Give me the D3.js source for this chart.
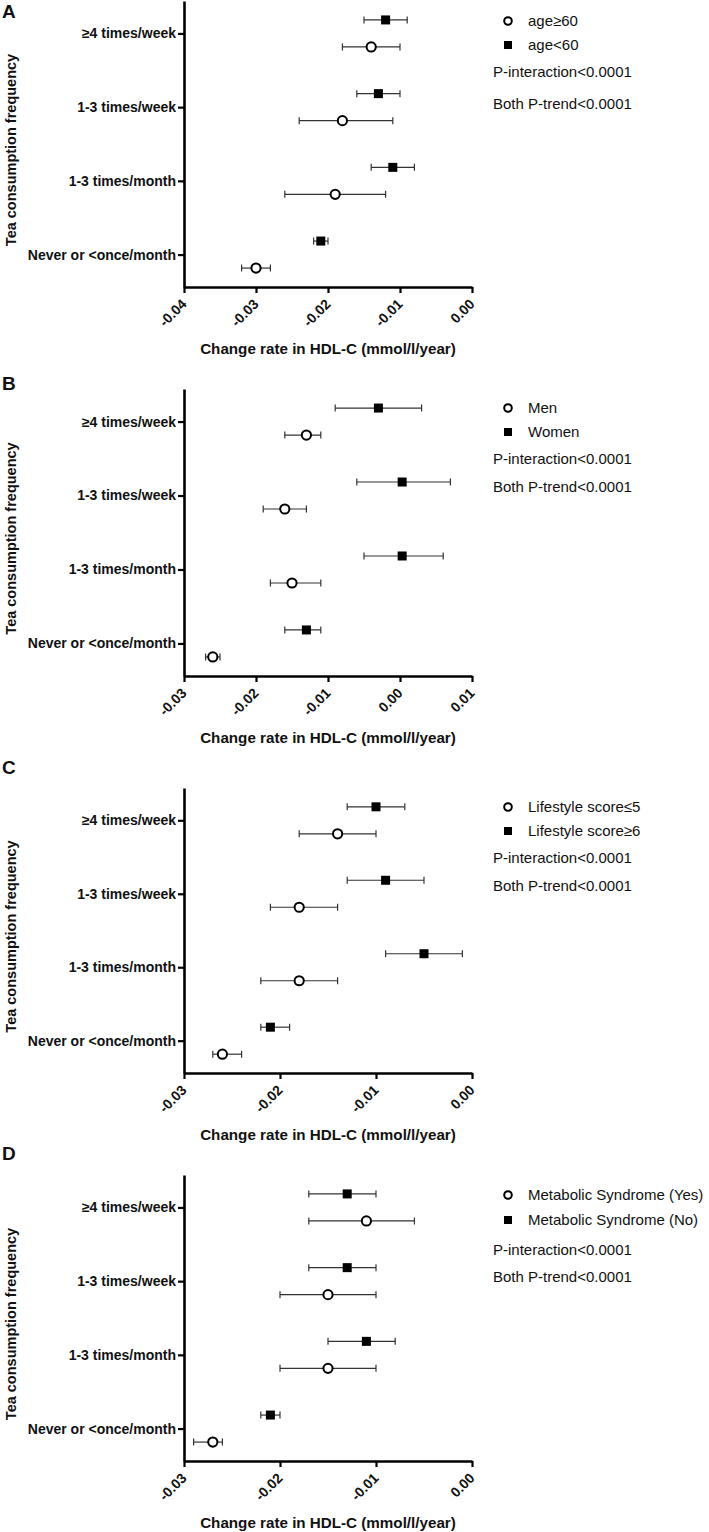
<!DOCTYPE html>
<html>
<head>
<meta charset="utf-8">
<script src="https://cdn.jsdelivr.net/npm/d3@7"></script>
<style>
  html, body { margin: 0; padding: 0; background: #fff; }
  svg { display: block; }
  text { font-family: "Liberation Sans", Arial, Helvetica, sans-serif; fill: #111; }
</style>
</head>
<body>
<svg id="chart" width="709" height="1532"></svg>
<script>
// ---------- DATA ----------
const categories = ["≥4 times/week", "1-3 times/week", "1-3 times/month", "Never or <once/month"];

// Panel A: age
const aOpenLabel = "age≥60";
const aFilledLabel = "age<60";
const aOpenMean = [-0.014, -0.018, -0.019, -0.030];
const aOpenCI = [[-0.018, -0.010], [-0.024, -0.011], [-0.026, -0.012], [-0.032, -0.028]];
const aFilledMean = [-0.012, -0.013, -0.011, -0.021];
const aFilledCI = [[-0.015, -0.009], [-0.016, -0.010], [-0.014, -0.008], [-0.022, -0.020]];
const aTicks = [-0.04, -0.03, -0.02, -0.01, 0.00];

// Panel B: sex
const bOpenLabel = "Men";
const bFilledLabel = "Women";
const bOpenMean = [-0.013, -0.016, -0.015, -0.026];
const bOpenCI = [[-0.016, -0.011], [-0.019, -0.013], [-0.018, -0.011], [-0.027, -0.025]];
const bFilledMean = [-0.003, 0.0003, 0.0003, -0.013];
const bFilledCI = [[-0.009, 0.003], [-0.006, 0.007], [-0.005, 0.006], [-0.016, -0.011]];
const bTicks = [-0.03, -0.02, -0.01, 0.00, 0.01];

// Panel C: lifestyle score
const cOpenLabel = "Lifestyle score≤5";
const cFilledLabel = "Lifestyle score≥6";
const cOpenMean = [-0.014, -0.018, -0.018, -0.026];
const cOpenCI = [[-0.018, -0.010], [-0.021, -0.014], [-0.022, -0.014], [-0.027, -0.024]];
const cFilledMean = [-0.010, -0.009, -0.005, -0.021];
const cFilledCI = [[-0.013, -0.007], [-0.013, -0.005], [-0.009, -0.001], [-0.022, -0.019]];
const cTicks = [-0.03, -0.02, -0.01, 0.00];

// Panel D: metabolic syndrome
const dOpenLabel = "Metabolic Syndrome (Yes)";
const dFilledLabel = "Metabolic Syndrome (No)";
const dOpenMean = [-0.011, -0.015, -0.015, -0.027];
const dOpenCI = [[-0.017, -0.006], [-0.020, -0.010], [-0.020, -0.010], [-0.029, -0.026]];
const dFilledMean = [-0.013, -0.013, -0.011, -0.021];
const dFilledCI = [[-0.017, -0.010], [-0.017, -0.010], [-0.015, -0.008], [-0.022, -0.020]];
const dTicks = [-0.03, -0.02, -0.01, 0.00];

const notes = ["P-interaction<0.0001", "Both P-trend<0.0001"];
const xTitle = "Change rate in HDL-C (mmol/l/year)";
const yTitle = "Tea consumption frequency";

// ---------- LAYOUT ----------
const panels = [
  { letter: "A", top: 1,    bottom: 287,  letterY: 18,   ticks: aTicks, openLabel: aOpenLabel, filledLabel: aFilledLabel,
    openMean: aOpenMean, openCI: aOpenCI, filledMean: aFilledMean, filledCI: aFilledCI, leg: [20, 44, 71, 103] },
  { letter: "B", top: 389,  bottom: 676,  letterY: 390,  ticks: bTicks, openLabel: bOpenLabel, filledLabel: bFilledLabel,
    openMean: bOpenMean, openCI: bOpenCI, filledMean: bFilledMean, filledCI: bFilledCI, leg: [19, 43, 70, 98] },
  { letter: "C", top: 788,  bottom: 1073, letterY: 774,  ticks: cTicks, openLabel: cOpenLabel, filledLabel: cFilledLabel,
    openMean: cOpenMean, openCI: cOpenCI, filledMean: cFilledMean, filledCI: cFilledCI, leg: [19, 43, 70, 98] },
  { letter: "D", top: 1175, bottom: 1461, letterY: 1160, ticks: dTicks, openLabel: dOpenLabel, filledLabel: dFilledLabel,
    openMean: dOpenMean, openCI: dOpenCI, filledMean: dFilledMean, filledCI: dFilledCI, leg: [20, 45, 75, 102] }
];

const xLeft = 184, xRight = 472;
const pairOffset = 13.5;
const capH = 3.5;

const svg = d3.select("#chart");

panels.forEach(p => {
  const g = svg.append("g");
  const x = d3.scaleLinear().domain([p.ticks[0], p.ticks[p.ticks.length - 1]]).range([xLeft, xRight]);
  const y = d3.scaleLinear().domain([-0.44, 3.44]).range([p.top, p.bottom]);

  // Y axis
  const yAxis = g.append("g")
    .attr("transform", `translate(${xLeft},0)`)
    .call(d3.axisLeft(y).tickValues([0, 1, 2, 3]).tickFormat(i => categories[i]).tickSize(6).tickSizeOuter(0).tickPadding(2));
  yAxis.select(".domain").attr("stroke", "#000").attr("stroke-width", 2.6);
  yAxis.selectAll(".tick line").attr("stroke", "#000").attr("stroke-width", 2.2);
  yAxis.selectAll(".tick text")
    .style("font-size", "14px").style("font-weight", "bold").attr("fill", "#111");

  // X axis
  const xAxis = g.append("g")
    .attr("transform", `translate(0,${p.bottom})`)
    .call(d3.axisBottom(x).tickValues(p.ticks).tickFormat(d => d.toFixed(2)).tickSize(6).tickSizeOuter(0));
  xAxis.select(".domain").attr("stroke", "#000").attr("stroke-width", 2.6);
  xAxis.selectAll(".tick line").attr("stroke", "#000").attr("stroke-width", 2.2);
  xAxis.selectAll(".tick text")
    .attr("x", 0).attr("y", 0).attr("dy", 0)
    .attr("transform", "translate(3,18) rotate(-45)")
    .style("text-anchor", "end")
    .style("font-size", "14px").style("font-weight", "bold").attr("fill", "#111");

  // Titles
  g.append("text")
    .attr("x", (xLeft + xRight) / 2).attr("y", p.bottom + 67)
    .attr("text-anchor", "middle")
    .style("font-size", "15.2px").style("font-weight", "bold")
    .text(xTitle);

  g.append("text")
    .attr("transform", `translate(16,${(p.top + p.bottom) / 2 + 6}) rotate(-90)`)
    .attr("text-anchor", "middle")
    .style("font-size", "14.5px").style("font-weight", "bold")
    .text(yTitle);

  g.append("text")
    .attr("x", 2).attr("y", p.letterY)
    .style("font-size", "19px").style("font-weight", "bold")
    .text(p.letter);

  // Error bars + markers
  const series = [
    { mean: p.openMean, ci: p.openCI, off: pairOffset, open: true },
    { mean: p.filledMean, ci: p.filledCI, off: -pairOffset, open: false }
  ];
  series.forEach(s => {
    const rows = categories.map((c, i) => ({ i, m: s.mean[i], lo: s.ci[i][0], hi: s.ci[i][1] }));
    const eg = g.append("g");
    const yy = d => y(d.i) + s.off;
    eg.selectAll("line.bar").data(rows).join("line")
      .attr("x1", d => x(d.lo)).attr("x2", d => x(d.hi))
      .attr("y1", yy).attr("y2", yy)
      .attr("stroke", "#333").attr("stroke-width", 1.2);
    eg.selectAll("line.capl").data(rows).join("line")
      .attr("x1", d => x(d.lo)).attr("x2", d => x(d.lo))
      .attr("y1", d => yy(d) - capH).attr("y2", d => yy(d) + capH)
      .attr("stroke", "#333").attr("stroke-width", 1.2);
    eg.append("g").selectAll("line").data(rows).join("line")
      .attr("x1", d => x(d.hi)).attr("x2", d => x(d.hi))
      .attr("y1", d => yy(d) - capH).attr("y2", d => yy(d) + capH)
      .attr("stroke", "#333").attr("stroke-width", 1.2);
    if (s.open) {
      eg.append("g").selectAll("circle").data(rows).join("circle")
        .attr("cx", d => x(d.m)).attr("cy", yy).attr("r", 4.6)
        .attr("fill", "#fff").attr("stroke", "#000").attr("stroke-width", 2);
    } else {
      eg.append("g").selectAll("rect").data(rows).join("rect")
        .attr("x", d => x(d.m) - 4.5).attr("y", d => yy(d) - 4.5)
        .attr("width", 9).attr("height", 9).attr("fill", "#000");
    }
  });

  // Legend
  const lg = g.append("g");
  lg.append("circle").attr("cx", 508).attr("cy", p.top + p.leg[0]).attr("r", 3.8)
    .attr("fill", "#fff").attr("stroke", "#000").attr("stroke-width", 2);
  lg.append("text").attr("x", 528).attr("y", p.top + p.leg[0]).attr("dy", "0.35em")
    .style("font-size", "15px").text(p.openLabel);
  lg.append("rect").attr("x", 504).attr("y", p.top + p.leg[1] - 4).attr("width", 8).attr("height", 8).attr("fill", "#000");
  lg.append("text").attr("x", 528).attr("y", p.top + p.leg[1]).attr("dy", "0.35em")
    .style("font-size", "15px").text(p.filledLabel);
  notes.forEach((n, k) => {
    lg.append("text").attr("x", 493).attr("y", p.top + p.leg[2 + k]).attr("dy", "0.35em")
      .style("font-size", "15px").text(n);
  });
});
</script>
</body>
</html>
